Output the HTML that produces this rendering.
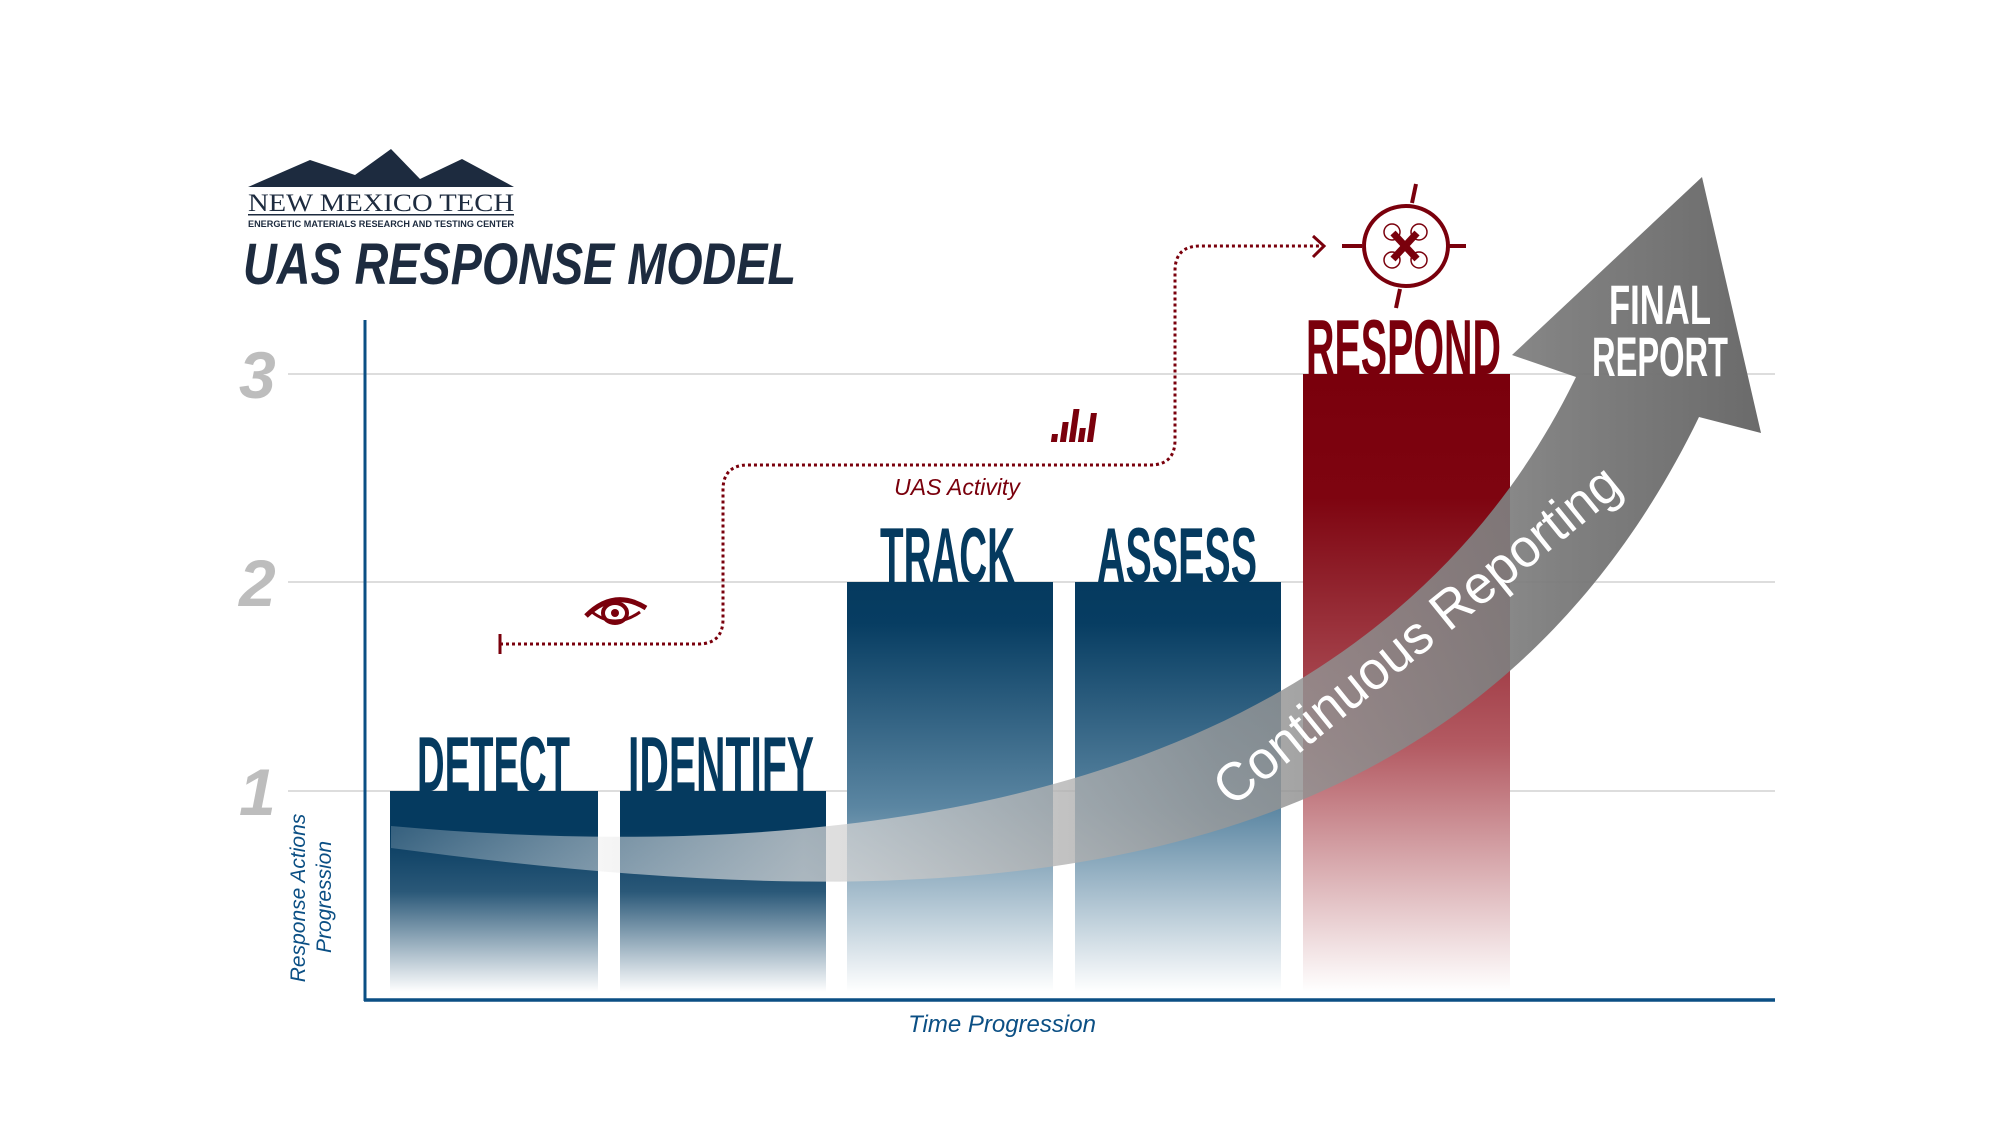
<!DOCTYPE html>
<html><head><meta charset="utf-8"><style>
html,body{margin:0;padding:0;background:#fff;}
svg{display:block;}
</style></head><body>
<svg width="2000" height="1125" viewBox="0 0 2000 1125" xmlns="http://www.w3.org/2000/svg">
<defs>
<linearGradient id="b1" x1="0" y1="0" x2="0" y2="1">
<stop offset="0" stop-color="#053a5f"/><stop offset="0.2" stop-color="#053a5f"/><stop offset="0.5" stop-color="#2a5878"/><stop offset="1" stop-color="#ffffff"/></linearGradient>
<linearGradient id="b2" x1="0" y1="0" x2="0" y2="1">
<stop offset="0" stop-color="#053a5f"/><stop offset="0.1" stop-color="#073d62"/><stop offset="0.55" stop-color="#5b86a2"/><stop offset="1" stop-color="#ffffff"/></linearGradient>
<linearGradient id="b3" x1="0" y1="0" x2="0" y2="1">
<stop offset="0" stop-color="#7a000c"/><stop offset="0.2" stop-color="#7e0410"/><stop offset="0.6" stop-color="#b35a62"/><stop offset="1" stop-color="#ffffff"/></linearGradient>
<linearGradient id="ag" x1="391" y1="0" x2="1766" y2="0" gradientUnits="userSpaceOnUse">
<stop offset="0" stop-color="#ffffff" stop-opacity="0.2"/>
<stop offset="0.3" stop-color="#d8d8d8" stop-opacity="0.75"/>
<stop offset="0.6" stop-color="#9a9a9a" stop-opacity="0.8"/>
<stop offset="0.85" stop-color="#7a7a7a" stop-opacity="0.95"/>
<stop offset="1" stop-color="#6a6a6a"/>
</linearGradient>
</defs>

<polygon points="248,187 310,160 355,175 391,149 420,179 462,159 514,187" fill="#1d2b3f"/>
<text x="248" y="211" font-family="Liberation Serif, serif" font-size="25" fill="#1d2b3f" textLength="266" lengthAdjust="spacingAndGlyphs">NEW MEXICO TECH</text>
<rect x="248" y="214" width="266" height="1.5" fill="#1d2b3f"/>
<text x="248" y="227" font-family="Liberation Sans, sans-serif" font-size="9" font-weight="bold" fill="#1d2b3f" textLength="266" lengthAdjust="spacingAndGlyphs">ENERGETIC MATERIALS RESEARCH AND TESTING CENTER</text>
<text x="243" y="284" font-family="Liberation Sans, sans-serif" font-size="58" font-weight="bold" font-style="italic" fill="#1d2b3f" textLength="553" lengthAdjust="spacingAndGlyphs">UAS RESPONSE MODEL</text>

<g stroke="#dddddd" stroke-width="2">
<line x1="288" y1="374" x2="1775" y2="374"/>
<line x1="288" y1="582" x2="1775" y2="582"/>
<line x1="288" y1="791" x2="1775" y2="791"/>
</g>
<g font-family="Liberation Sans, sans-serif" font-size="66" font-weight="bold" font-style="italic" fill="#bdbdbd">
<text x="239" y="398">3</text><text x="239" y="606">2</text><text x="239" y="815">1</text>
</g>

<rect x="390" y="791" width="208" height="201" fill="url(#b1)"/>
<rect x="620" y="791" width="206" height="201" fill="url(#b1)"/>
<rect x="847" y="582" width="206" height="410" fill="url(#b2)"/>
<rect x="1075" y="582" width="206" height="410" fill="url(#b2)"/>
<rect x="1303" y="374" width="207" height="618" fill="url(#b3)"/>

<g font-family="Liberation Sans Narrow, Liberation Sans, sans-serif" font-weight="bold">
<text x="417" y="791" font-size="78" fill="#053a5f" textLength="153" lengthAdjust="spacingAndGlyphs">DETECT</text>
<text x="628" y="791" font-size="78" fill="#053a5f" textLength="186" lengthAdjust="spacingAndGlyphs">IDENTIFY</text>
<text x="880" y="582" font-size="78" fill="#053a5f" textLength="135" lengthAdjust="spacingAndGlyphs">TRACK</text>
<text x="1097" y="582" font-size="78" fill="#053a5f" textLength="160" lengthAdjust="spacingAndGlyphs">ASSESS</text>
<text x="1306" y="374" font-size="78" fill="#7a000c" textLength="195" lengthAdjust="spacingAndGlyphs">RESPOND</text>
</g>

<path d="M391,826 C900,872 1380,780 1576,377 L1512,355 L1702,177 L1761,433 L1699,417 C1450,930 900,915 391,848 Z" fill="url(#ag)"/>
<text font-family="Liberation Sans, sans-serif" font-size="54" fill="#ffffff" transform="translate(1232,808) rotate(-39)" textLength="505" lengthAdjust="spacingAndGlyphs">Continuous Reporting</text>
<g font-family="Liberation Sans Narrow, Liberation Sans, sans-serif" font-weight="bold" fill="#ffffff">
<text x="1609" y="324" font-size="56" textLength="102" lengthAdjust="spacingAndGlyphs">FINAL</text>
<text x="1592" y="376" font-size="56" textLength="136" lengthAdjust="spacingAndGlyphs">REPORT</text>
</g>

<line x1="365" y1="320" x2="365" y2="1001" stroke="#0b4f84" stroke-width="3"/>
<line x1="364" y1="1000" x2="1775" y2="1000" stroke="#0b4f84" stroke-width="3.5"/>
<text x="1002" y="1032" text-anchor="middle" font-family="Liberation Sans Narrow, Liberation Sans, sans-serif" font-style="italic" font-size="24" fill="#0b4f84">Time Progression</text>
<g font-family="Liberation Sans, sans-serif" font-style="italic" font-size="21" fill="#0b4f84" text-anchor="middle">
<text transform="translate(305,898) rotate(-90)">Response Actions</text>
<text transform="translate(331,897) rotate(-90)">Progression</text>
</g>

<path d="M500,644 L698,644 Q723,644 723,619 L723,490 Q723,465 748,465 L1150,465 Q1175,465 1175,440 L1175,271 Q1175,246 1200,246 L1322,246" fill="none" stroke="#7a000c" stroke-width="3" stroke-dasharray="3,3"/>
<line x1="500" y1="634" x2="500" y2="654" stroke="#7a000c" stroke-width="3"/>
<polyline points="1313,236 1324,246 1313,257" fill="none" stroke="#7a000c" stroke-width="3"/>
<text x="957" y="495" text-anchor="middle" font-family="Liberation Sans Narrow, Liberation Sans, sans-serif" font-style="italic" font-size="23" fill="#7a000c">UAS Activity</text>

<path d="M586,616 Q614,588 646,608" fill="none" stroke="#7a000c" stroke-width="5"/>
<path d="M592,612 Q615,630 640,612" fill="none" stroke="#7a000c" stroke-width="3"/>
<ellipse cx="615" cy="613" rx="12" ry="10" fill="none" stroke="#7a000c" stroke-width="4"/>
<circle cx="615" cy="613" r="4" fill="#7a000c"/>

<g fill="#7a000c" transform="skewX(-8)">
<rect x="1113" y="434" width="6" height="8"/>
<rect x="1122" y="422" width="6" height="20"/>
<rect x="1131" y="409" width="6" height="33"/>
<rect x="1140" y="428" width="6" height="14"/>
<rect x="1149" y="413" width="6" height="29"/>
</g>

<g stroke="#7a000c" fill="none">
<ellipse cx="1406" cy="246" rx="42" ry="40" stroke-width="4"/>
<line x1="1416" y1="184" x2="1412" y2="203" stroke-width="4"/>
<line x1="1400" y1="289" x2="1396" y2="308" stroke-width="4"/>
<line x1="1342" y1="246" x2="1362" y2="246" stroke-width="4"/>
<line x1="1448" y1="246" x2="1466" y2="246" stroke-width="4"/>
<line x1="1393" y1="233" x2="1417" y2="259" stroke-width="7"/>
<line x1="1417" y1="233" x2="1393" y2="259" stroke-width="7"/>
<circle cx="1392" cy="232" r="8" stroke-width="1.5"/>
<circle cx="1419" cy="232" r="8" stroke-width="1.5"/>
<circle cx="1392" cy="260" r="8" stroke-width="1.5"/>
<circle cx="1419" cy="260" r="8" stroke-width="1.5"/>
</g>
</svg>
</body></html>
